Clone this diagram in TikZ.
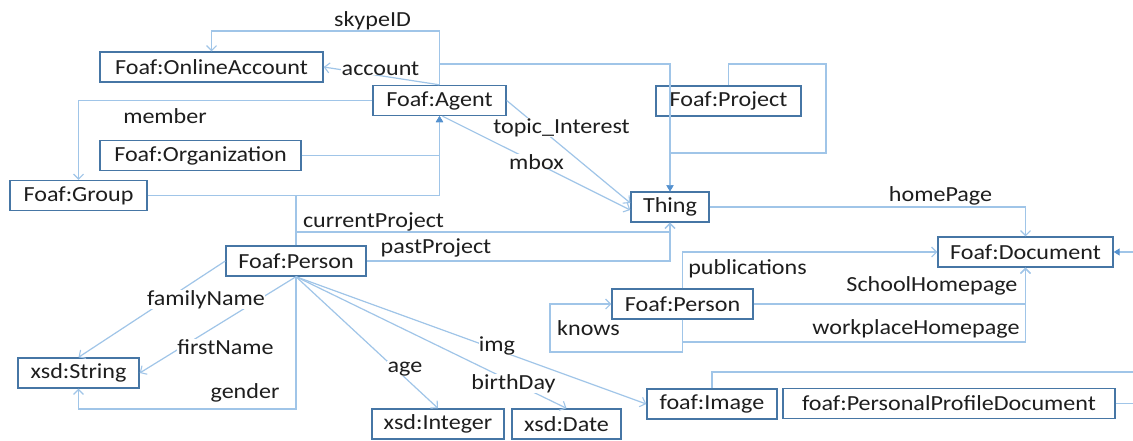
\documentclass[tikz,border=0pt]{standalone}
\usepackage{fontspec}
\setmainfont{Carlito}[FakeStretch=1.12]
\usetikzlibrary{arrows.meta}

\definecolor{boxblue}{RGB}{70,118,165}
\definecolor{linkblue}{RGB}{160,197,232}
\definecolor{tipblue}{RGB}{84,145,207}
\definecolor{ink}{RGB}{30,30,30}

\tikzset{
  cls/.style={draw=boxblue, line width=1.4pt, fill=white, minimum height=30pt,
              inner sep=0pt, text=ink, font=\fontsize{21.5}{24}\selectfont},
  link/.style={draw=linkblue, line width=1.2pt},
  opentip/.style={-{Straight Barb[length=5pt,width=10pt,line width=1.1pt]}},
  subtip/.style={-{Triangle[length=6pt,width=7pt,color=tipblue,fill=tipblue]}},
  lbl/.style={fill=white, inner sep=0.3pt, anchor=base, text=ink,
              font=\fontsize{21.5}{24}\selectfont},
}

\begin{document}
\begin{tikzpicture}[x=1pt, y=-1pt]
\useasboundingbox (0,0) rectangle (1133,440);
\fill[white] (0,0) rectangle (1133,440);

% classes
\node[cls, minimum width=223pt] (oa)      at (211.5,67)   {Foaf:OnlineAccount};
\node[cls, minimum width=133pt] (agent)   at (439.5,100.5){Foaf:Agent};
\node[cls, minimum width=201pt] (org)     at (200.5,155.5){Foaf:Organization};
\node[cls, minimum width=137pt] (group)   at (78.5,195.5) {Foaf:Group};
\node[cls, minimum width=145pt] (project) at (728.5,101)  {Foaf:Project};
\node[cls, minimum width=78pt]  (thing)   at (670,207)    {Thing};
\node[cls, minimum width=140pt] (personA) at (296,261)    {Foaf:Person};
\node[cls, minimum width=175pt] (doc)     at (1025.5,252) {Foaf:Document};
\node[cls, minimum width=141pt] (personB) at (682.5,304)  {Foaf:Person};
\node[cls, minimum width=121pt] (string)  at (78.5,373)   {xsd:String};
\node[cls, minimum width=132pt] (integer) at (438,424)    {xsd:Integer};
\node[cls, minimum width=109pt] (date)    at (566.5,424)  {xsd:Date};
\node[cls, minimum width=130pt] (image)   at (712,404)    {foaf:Image};
\node[cls, minimum width=332pt] (ppd)     at (949,403.5)  {foaf:PersonalProfileDocument};

% bend rows and columns, free ends at the right edge
\coordinate (rowSky)    at (0,31);
\coordinate (rowTop)    at (0,64);
\coordinate (projRight) at (826,0);
\coordinate (rowProj)   at (0,153);
\coordinate (rowCur)    at (0,232);
\coordinate (rowWork)   at (0,342);
\coordinate (knowsL)    at (550,352);
\coordinate (rowGender) at (0,409);
\coordinate (imgOut)    at (1133,372);
\coordinate (ppdOut)    at (1133,403.5);
\coordinate (docIn)     at (1133,252);

% subclass links
\draw[link, subtip] (agent.north) |- (thing.north |- rowTop) -- (thing.north);
\draw[link, subtip] (project.north) |- (projRight |- rowTop) |- (thing.north |- rowProj) -- (thing.north);
\draw[link, subtip] (org.east) -| (agent.south);
\draw[link, subtip] (group.east) -| (agent.south);
\draw[link, subtip] (personA.north) |- (agent.south |- group.east) -- (agent.south);
\draw[link] (image.north) |- (imgOut);
\draw[link] (ppd.east) -- (ppdOut);
\draw[link, subtip] (docIn) -- (doc.east);

% properties
\draw[link, opentip] (agent.north) -- (agent.north |- rowSky) -| (oa.north);
\draw[link, opentip] (agent.north) -- (oa.east);
\draw[link, opentip] (agent.west) -| (group.north);
\draw[link, opentip] (agent.east) -- ([yshift=4pt]thing.west);
\draw[link, opentip] ([xshift=3pt]agent.south) -- ([yshift=-3pt]thing.west);
\draw[link, opentip] (personA.north) |- (thing.south |- rowCur) -- (thing.south);
\draw[link, opentip] (personA.east) -| (thing.south);
\draw[link, opentip] (thing.east) -| (doc.north);
\draw[link, opentip] (personB.north) |- (doc.west);
\draw[link, opentip] (personB.east) -| (doc.south);
\draw[link, opentip] (personB.south) |- (doc.south |- rowWork) -- (doc.south);
\draw[link, opentip] (personB.south) |- (knowsL) |- (personB.west);
\draw[link, opentip] (personA.west) -- (string.north);
\draw[link, opentip] (personA.south) -- (string.east);
\draw[link, opentip] (personA.south) |- (string.south |- rowGender) -- (string.south);
\draw[link, opentip] (personA.south) -- (integer.north);
\draw[link, opentip] (personA.south) -- (date.north);
\draw[link, opentip] (personA.south) -- (image.west);

% property names
\node[lbl] (lSkype)   at (372.5,26)  {skypeID};
\node[lbl] (lAccount) at (380.5,75)  {account};
\node[lbl] (lMember)  at (165,123)   {member};
\node[lbl] (lTopic)   at (561.5,133) {topic\_Interest};
\node[lbl] (lMbox)    at (536.5,169) {mbox};
\node[lbl] (lCur)     at (373.5,227) {currentProject};
\node[lbl] (lPast)    at (436,253)   {pastProject};
\node[lbl] (lHome)    at (940.5,201) {homePage};
\node[lbl] (lPub)     at (747.5,274) {publications};
\node[lbl, anchor=base east] (lSchool) at (1018,291) {SchoolHomepage};
\node[lbl, anchor=base east] (lWork)   at (1020,334) {workplaceHomepage};
\node[lbl] (lKnows)   at (588.5,335) {knows};
\node[lbl] (lFamily)  at (206,305)   {familyName};
\node[lbl] (lFirst)   at (225.5,354) {firstName};
\node[lbl] (lGender)  at (245,398)   {gender};
\node[lbl] (lAge)     at (405,372)   {age};
\node[lbl] (lBirth)   at (513.5,389) {birthDay};
\node[lbl] (lImg)     at (497,351)   {img};
\end{tikzpicture}
\end{document}
